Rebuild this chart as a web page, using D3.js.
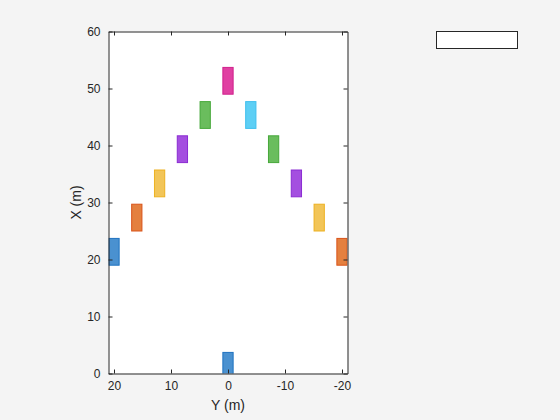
<!DOCTYPE html>
<html><head><meta charset="utf-8">
<script src="https://cdn.jsdelivr.net/npm/d3@7"></script>
<style>
html,body{margin:0;padding:0;background:#f4f4f4;}
svg{display:block;font-family:"Liberation Sans",Arial,sans-serif;}
</style></head>
<body>
<script>
// Vehicle positions (X forward, Y left), in metres
const carNames = ["ego","c1","c2","c3","c4","c5","c6","c7","c8","c9","c10","c11"];
const carX = [0, 20, 26, 32, 38, 44, 50, 44, 38, 32, 26, 20];
const carY = [0, 20, 16, 12, 8, 4, 0, -4, -8, -12, -16, -20];
const faceColors = ["#4a91d0","#4a91d0","#e4803f","#f2c558","#a44fe0","#6abd5d","#e040a2","#5dcff5","#6abd5d","#a44fe0","#f2c558","#e4803f"];
const edgeColors = ["#1f72c0","#1f72c0","#d95319","#edb120","#8a2bd2","#46a83a","#d0208c","#40bfee","#46a83a","#8a2bd2","#edb120","#d95319"];
const carLength = 4.7, carWidth = 1.8, rearOverhang = 1.0;
const xTicks = [0, 10, 20, 30, 40, 50, 60];
const yTicks = [20, 10, 0, -10, -20];

const W = 560, H = 420;
const pL = 108.5, pR = 347.5, pT = 31.5, pB = 373.5;
const svg = d3.select("body").append("svg").attr("width", W).attr("height", H);

const sx = d3.scaleLinear().domain([0, 60]).range([pB, pT]); // X (m) vertical
const halfY = (pR - pL) / 2 / ((pB - pT) / 60);
const sy = d3.scaleLinear().domain([halfY, -halfY]).range([pL, pR]); // Y (m) horizontal

svg.append("rect").attr("x", pL).attr("y", pT).attr("width", pR - pL).attr("height", pB - pT).attr("fill", "#fff");

svg.append("clipPath").attr("id", "clip").append("rect")
  .attr("x", pL).attr("y", pT).attr("width", pR - pL).attr("height", pB - pT);

const cars = carX.map((x, i) => ({x, y: carY[i], f: faceColors[i], e: edgeColors[i], n: carNames[i]}));
svg.append("g").attr("clip-path", "url(#clip)").selectAll("rect").data(cars).join("rect")
  .attr("x", d => sy(d.y + carWidth / 2))
  .attr("y", d => sx(d.x - rearOverhang + carLength))
  .attr("width", d => sy(d.y - carWidth / 2) - sy(d.y + carWidth / 2))
  .attr("height", d => sx(d.x - rearOverhang) - sx(d.x - rearOverhang + carLength))
  .attr("fill", d => d.f).attr("stroke", d => d.e).attr("stroke-width", 1);

const tc = "#262626";
const axL = d3.axisLeft(sx).tickValues(xTicks).tickSizeInner(-4).tickSizeOuter(0).tickPadding(8);
const axR = d3.axisRight(sx).tickValues(xTicks).tickSizeInner(-4).tickSizeOuter(0).tickFormat("");
const axB = d3.axisBottom(sy).tickValues(yTicks).tickSizeInner(-4).tickSizeOuter(0).tickPadding(8).tickFormat(d => d < 0 ? "-" + (-d) : d);
const axT = d3.axisTop(sy).tickValues(yTicks).tickSizeInner(-4).tickSizeOuter(0).tickFormat("");

function style(g) {
  g.select(".domain").attr("stroke", tc).attr("stroke-width", 1);
  g.selectAll(".tick line").attr("stroke", tc);
  g.selectAll(".tick text").attr("fill", tc).attr("font-size", 12).attr("font-family", "'Liberation Sans',Arial,sans-serif");
}
svg.append("g").attr("transform", `translate(${pL},0)`).call(axL).call(style);
svg.append("g").attr("transform", `translate(${pR},0)`).call(axR).call(style);
svg.append("g").attr("transform", `translate(0,${pB})`).call(axB).call(style);
svg.append("g").attr("transform", `translate(0,${pT})`).call(axT).call(style);

svg.append("text").attr("x", (pL + pR) / 2).attr("y", 410).attr("text-anchor", "middle")
  .attr("font-size", 14).attr("fill", tc).text("Y (m)");
svg.append("text").attr("transform", `translate(81,${(pT + pB) / 2}) rotate(-90)`).attr("text-anchor", "middle")
  .attr("font-size", 14).attr("fill", tc).text("X (m)");

svg.append("rect").attr("x", 436.5).attr("y", 31.5).attr("width", 81).attr("height", 17)
  .attr("fill", "#fff").attr("stroke", tc).attr("stroke-width", 1);
</script>
</body></html>
